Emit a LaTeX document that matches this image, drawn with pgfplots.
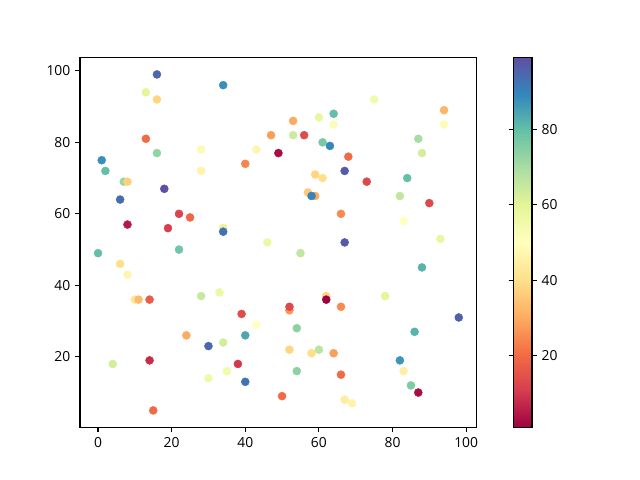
\documentclass[border=0pt]{standalone}
\usepackage{pgfplots}
\pgfplotsset{compat=1.18}
\usepackage{fontspec}
\setmainfont{Open Sans}
\pgfplotsset{colormap={spectral}{rgb255=(158,1,66) rgb255=(213,62,79) rgb255=(244,109,67) rgb255=(253,174,97) rgb255=(254,224,139) rgb255=(255,255,191) rgb255=(230,245,152) rgb255=(171,221,164) rgb255=(102,194,165) rgb255=(50,136,189) rgb255=(94,79,162)}}
\pgfplotstableread{
x y c
16 99 95
34 96 88
13 94 60
16 92 38
13 81 20
47 82 28
16 77 73
28 78 48
43 78 47
49 77 3
1 75 88
2 72 80
28 72 46
40 74 24
7 69 72
8 69 37
18 67 99
6 64 94
22 60 12
25 59 19
8 57 5
19 56 11
34 56 60
34 55 93
46 52 57
75 92 55
94 89 32
94 85 52
53 86 30
60 87 58
64 88 80
64 85 52
53 82 64
56 82 14
61 80 77
63 79 89
87 81 70
88 77 63
68 76 20
67 72 97
73 69 13
84 70 80
59 71 38
61 70 40
57 66 36
59 65 30
58 65 90
82 65 66
90 63 13
66 60 25
83 58 50
67 52 97
93 53 58
0 49 80
22 50 78
6 46 40
8 43 47
10 36 42
11 36 33
14 36 17
28 37 65
33 38 57
39 32 14
43 29 50
24 26 30
30 23 95
34 24 63
40 26 84
4 18 63
14 19 8
38 18 10
30 14 56
35 16 55
40 13 93
50 9 20
15 5 20
55 49 66
88 45 82
62 37 38
62 36 1
66 34 25
78 37 60
52 33 27
52 34 13
98 31 96
54 28 74
86 27 82
52 22 38
58 21 40
60 22 67
64 21 28
82 19 87
83 16 45
54 16 74
66 15 20
85 12 76
87 10 3
67 8 44
69 7 46
}\datatable
\begin{document}
\begin{tikzpicture}
\path (0,0) rectangle (460.8bp,345.6bp);
\begin{axis}[
  at={(57.6bp,38.0bp)}, anchor=south west,
  scale only axis, width=285.7bp, height=266.1bp,
  xmin=-4.9, xmax=102.9, ymin=0.3, ymax=103.7,
  xtick={0,20,40,60,80,100}, ytick={20,40,60,80,100},
  tick pos=left, tick align=outside,
  major tick length=3.5bp,
  axis line style={line width=0.8bp, black},
  every tick/.style={line width=0.8bp, black},
  tick label style={font=\fontsize{10}{12}\selectfont},
  /pgf/number format/assume math mode=true,
  colormap name=spectral,
  point meta min=1, point meta max=99,
  colorbar,
  colorbar style={
    at={(parent axis.north east)}, anchor=north west, xshift=17.9bp,
    scale only axis, width=13.3bp, height=266.1bp,
    ytick={20,40,60,80},
    tick align=outside, major tick length=3.5bp,
    axis line style={line width=0.8bp, black},
    every tick/.style={line width=0.8bp, black},
    yticklabel style={font=\fontsize{10}{12}\selectfont},
    /pgf/number format/assume math mode=true,
  },
]
\addplot[scatter, only marks, mark=*, mark size=2.9bp,
  mark options={line width=0.3bp},
  scatter/use mapped color={draw=mapped color, fill=mapped color},
  point meta=explicit] table[x=x, y=y, meta=c] {\datatable};
\end{axis}
\end{tikzpicture}
\end{document}
